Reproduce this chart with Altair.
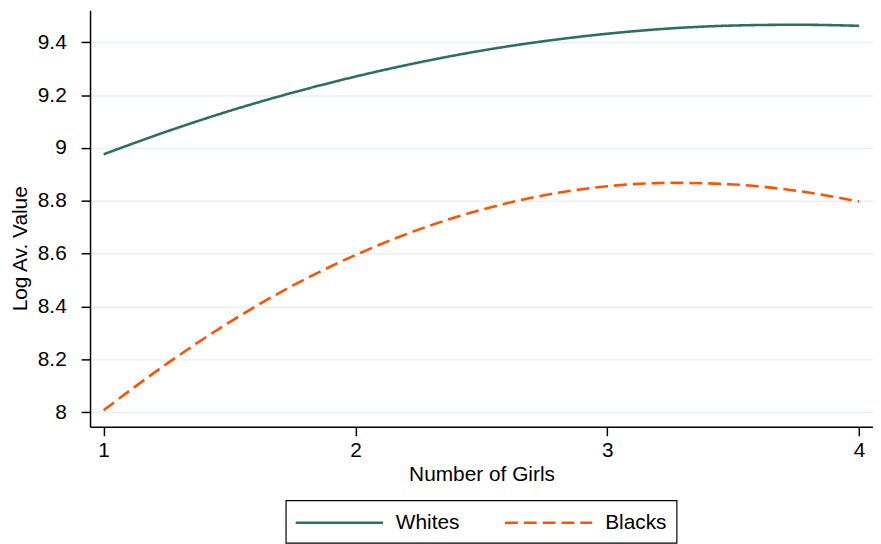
import altair as alt
import pandas as pd

# Values
x_vals = [1.0, 1.25, 1.5, 1.75, 2.0, 2.25, 2.5, 2.75, 3.0, 3.25, 3.5, 3.75, 4.0]
whites = [8.976, 9.062, 9.140, 9.209, 9.270, 9.323, 9.368, 9.404, 9.432, 9.452, 9.463, 9.466, 9.462]
blacks = [8.008, 8.183, 8.341, 8.479, 8.595, 8.691, 8.766, 8.821, 8.855, 8.868, 8.862, 8.838, 8.797]
series_names = ["Whites", "Blacks"]
x_ticks = [1, 2, 3, 4]
y_ticks = [8, 8.2, 8.4, 8.6, 8.8, 9, 9.2, 9.4]

rows = []
for name, vals in zip(series_names, [whites, blacks]):
    for xv, yv in zip(x_vals, vals):
        rows.append({"girls": xv, "value": yv, "group": name})
df = pd.DataFrame(rows)

FONT = "Liberation Sans"
FS = 21

chart = alt.Chart(df).mark_line(strokeWidth=2.6, interpolate="monotone").encode(
    x=alt.X("girls:Q",
            scale=alt.Scale(domain=[0.946, 4.055], nice=False, zero=False),
            axis=alt.Axis(values=x_ticks, format="d", title="Number of Girls",
                          grid=False, tickSize=9, labelPadding=3.5, titlePadding=4)),
    y=alt.Y("value:Q",
            scale=alt.Scale(domain=[7.945, 9.521], nice=False, zero=False),
            axis=alt.Axis(values=y_ticks, format="~g", title="Log Av. Value",
                          grid=True, tickSize=9, labelPadding=15,
                          titleX=-60, titleY=240)),
    color=alt.Color("group:N",
                    scale=alt.Scale(domain=series_names, range=["#2E6E66", "#FF5200"]),
                    legend=alt.Legend(title=None, orient="none", direction="horizontal",
                                      legendX=197.3, legendY=494,
                                      symbolType="M-4,0L4,0", symbolSize=484,
                                      symbolStrokeWidth=2.6, symbolOffset=31.5,
                                      labelOffset=44.5, columnPadding=39,
                                      padding=10, strokeColor="black",
                                      fillColor="white",
                                      labelFontSize=FS, labelFont=FONT,
                                      labelColor="black")),
    strokeDash=alt.StrokeDash("group:N",
                              scale=alt.Scale(domain=series_names, range=[[1, 0], [13, 6]]),
                              legend=None),
).properties(
    width=789.3,
    height=420,
    padding={"left": 82.7, "top": 0, "right": 0, "bottom": 130},
    autosize="none",
).configure_view(
    strokeWidth=0
).configure_axis(
    labelFont=FONT, titleFont=FONT,
    labelFontSize=FS, titleFontSize=FS,
    labelColor="black", titleColor="black",
    titleFontWeight="normal",
    domainColor="black", domainWidth=1.5,
    tickColor="black", tickWidth=1.5,
    gridColor="#E8F0F2", gridWidth=1.5,
).configure_legend(
    strokeWidth=1.2,
)

chart.save("out.html", embed_options={"renderer": "svg", "actions": False})
